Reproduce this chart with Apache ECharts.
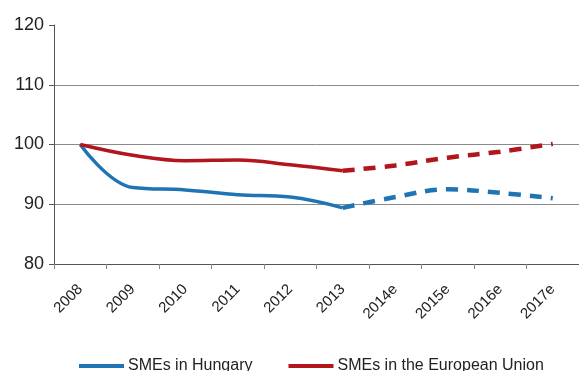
<!DOCTYPE html>
<html>
<head>
<meta charset="utf-8">
<script src="https://cdn.jsdelivr.net/npm/echarts@6/dist/echarts.min.js"></script>
<style>
  html, body { margin: 0; padding: 0; background: #fff; }
  #chart { width: 579px; height: 371px; }
</style>
</head>
<body>
<div id="chart"></div>
<script>
// Index of SME value added, 2008 = 100 (e = estimate)
const years = ['2008', '2009', '2010', '2011', '2012', '2013', '2014e', '2015e', '2016e', '2017e'];
const hungary = [100, 92.8, 92.4, 91.6, 91.2, 89.4, 91.2, 92.5, 91.9, 91.0];
const eu = [100, 98.2, 97.3, 97.4, 96.6, 95.6, 96.5, 97.8, 98.8, 100.1];
const yTicks = [80, 90, 100, 110, 120];
const lastActual = 5; // index of 2013, after which values are estimates

function actualPart(arr) {
  return arr.map((v, i) => (i <= lastActual ? v : null));
}
function estimatePart(arr) {
  return arr.map((v, i) => (i >= lastActual ? v : null));
}

const blue = '#1f74b4';
const red = '#b2151c';
const font = '"Liberation Sans", Arial, sans-serif';

const chart = echarts.init(document.getElementById('chart'));
chart.setOption({
  animation: false,
  textStyle: { fontFamily: font },
  grid: { left: 54, right: -3, top: 25, bottom: 107 },
  xAxis: {
    type: 'category',
    data: years,
    boundaryGap: true,
    axisLine: { lineStyle: { color: '#555', width: 1 } },
    axisTick: { show: true, length: 5, lineStyle: { color: '#888' } },
    axisLabel: { rotate: 45, fontSize: 15, color: '#222', margin: 23, fontFamily: font }
  },
  yAxis: {
    type: 'value',
    min: yTicks[0],
    max: yTicks[yTicks.length - 1],
    interval: 10,
    axisLine: { show: true, lineStyle: { color: '#555', width: 1 } },
    axisTick: { show: true, length: 5, lineStyle: { color: '#555' } },
    axisLabel: { fontSize: 18, color: '#222', margin: 10, fontFamily: font },
    splitLine: {
      show: true,
      lineStyle: { color: ['transparent', '#8a8a8a', '#8a8a8a', '#8a8a8a', 'transparent'], width: 1 }
    }
  },
  legend: {
    bottom: -8,
    left: 74,
    itemWidth: 45,
    itemHeight: 4,
    itemGap: 36,
    icon: 'rect',
    textStyle: { fontSize: 16, color: '#222', fontFamily: font, padding: [0, 0, 0, -1] },
    data: ['SMEs in Hungary', 'SMEs in the European Union']
  },
  series: [
    {
      name: 'SMEs in Hungary',
      type: 'line',
      data: actualPart(hungary),
      smooth: 0.4,
      symbol: 'none',
      lineStyle: { color: blue, width: 3.5 },
      itemStyle: { color: blue }
    },
    {
      name: 'SMEs in Hungary (estimate)',
      type: 'line',
      data: estimatePart(hungary),
      smooth: 0.4,
      symbol: 'none',
      lineStyle: { color: blue, width: 4.5, type: [12, 9] },
      itemStyle: { color: blue }
    },
    {
      name: 'SMEs in the European Union',
      type: 'line',
      data: actualPart(eu),
      smooth: 0.4,
      symbol: 'none',
      lineStyle: { color: red, width: 3.5 },
      itemStyle: { color: red }
    },
    {
      name: 'SMEs in the European Union (estimate)',
      type: 'line',
      data: estimatePart(eu),
      smooth: 0.4,
      symbol: 'none',
      lineStyle: { color: red, width: 4.5, type: [12, 9] },
      itemStyle: { color: red }
    }
  ]
});
</script>
</body>
</html>
